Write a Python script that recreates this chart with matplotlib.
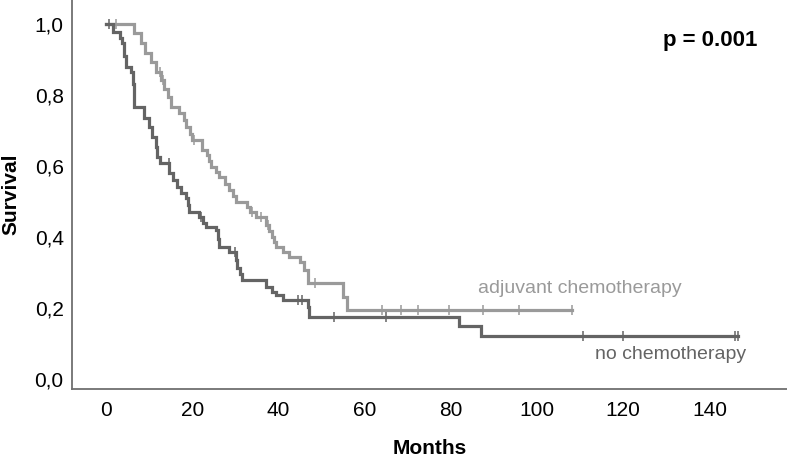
import numpy as np
import matplotlib
matplotlib.use("Agg")
import matplotlib.pyplot as plt

# Kaplan-Meier step data (months, survival after each drop)
adj_t = [0, 6.5, 8, 9, 10.5, 11.6, 12.8, 13.5, 14.3, 15, 17, 18, 18.6, 19.5, 20,
         22.3, 23.5, 23.8, 24.4, 25.5, 26.3, 27.5, 28.6, 29.5, 30.2, 32.6, 33.5,
         34.9, 37, 37.8, 38.4, 39, 39.5, 41, 42.5, 44.9, 46, 46.8, 55, 55.8, 108]
adj_s = [1.0, 0.975, 0.946, 0.918, 0.893, 0.865, 0.842, 0.818, 0.794, 0.766, 0.749,
         0.73, 0.71, 0.69, 0.673, 0.645, 0.631, 0.614, 0.597, 0.583, 0.569, 0.55,
         0.532, 0.515, 0.499, 0.485, 0.47, 0.456, 0.434, 0.417, 0.4, 0.386, 0.372,
         0.358, 0.344, 0.33, 0.307, 0.27, 0.23, 0.195, 0.195]
adj_cens = [2.3, 12.5, 13.2, 20.5, 33.8, 36, 37.5, 48.5, 64, 68.4, 72.3, 79.5,
            87.4, 95.8, 108]

no_t = [0, 1.5, 3.3, 3.7, 4.2, 4.6, 5.8, 6.2, 6.4, 6.6, 8.8, 10, 10.7, 11.6, 11.9,
        12.5, 14.7, 15.5, 16.5, 17.5, 18.6, 19, 19.3, 21.6, 22.5, 23.3, 25.6, 26,
        26.3, 28.6, 30.2, 30.5, 31, 31.6, 37.2, 38.4, 39.5, 41, 46.8, 47.2, 82, 87,
        146.7]
no_s = [1.0, 0.977, 0.96, 0.946, 0.91, 0.879, 0.865, 0.83, 0.8, 0.766, 0.735, 0.71,
        0.682, 0.654, 0.625, 0.61, 0.58, 0.56, 0.541, 0.525, 0.51, 0.49, 0.47,
        0.456, 0.44, 0.428, 0.42, 0.396, 0.372, 0.358, 0.335, 0.313, 0.296, 0.279,
        0.26, 0.245, 0.237, 0.222, 0.203, 0.175, 0.15, 0.12, 0.12]
no_cens = [0.8, 14.5, 22, 30, 44.5, 45.5, 52.8, 65, 110.7, 120, 146, 146.7]

xticks = [0, 20, 40, 60, 80, 100, 120, 140]
yticks = [0.0, 0.2, 0.4, 0.6, 0.8, 1.0]

c_adj = "#9a9a9a"
c_no = "#646464"
font = "Liberation Sans"

fig = plt.figure(figsize=(7.87, 4.58), dpi=100)
ax = fig.add_axes([72 / 787, 69 / 458, 715 / 787, 389 / 458])


def surv_at(t, times, surv):
    i = np.searchsorted(times, t, side="right") - 1
    return np.asarray(surv)[i]


for t, s, cens, col in [(adj_t, adj_s, adj_cens, c_adj), (no_t, no_s, no_cens, c_no)]:
    ax.step(t, s, where="post", color=col, lw=2.3, solid_joinstyle="miter")
    ax.plot(cens, surv_at(cens, t, s), ls="none", marker="|", ms=7, mew=1.1, color=col)

ax.set_xlim(-7.9, 158)
ax.set_ylim(-0.028, 1.068)
ax.set_xticks(xticks)
ax.set_yticks(yticks)
ax.set_yticklabels([f"{v:.1f}".replace(".", ",") for v in yticks])
ax.tick_params(length=0, labelsize=15)
ax.tick_params(axis="x", pad=9)
ax.tick_params(axis="y", pad=6)
for lab in ax.get_xticklabels() + ax.get_yticklabels():
    lab.set_fontfamily(font)

for side in ["top", "right"]:
    ax.spines[side].set_visible(False)
for side in ["left", "bottom"]:
    ax.spines[side].set_color("#707070")
    ax.spines[side].set_linewidth(1.3)

ax.set_xlabel("Months", fontsize=15, fontweight="bold", family=font, labelpad=13)
ax.set_ylabel("Survival", fontsize=15, fontweight="bold", family=font, labelpad=10)

ax.text(110, 0.256, "adjuvant chemotherapy", color=c_adj, fontsize=14, family=font,
        ha="center", va="center")
ax.text(131, 0.07, "no chemotherapy", color=c_no, fontsize=14, family=font,
        ha="center", va="center")
ax.text(151.2, 0.955, "p = 0.001", color="black", fontsize=16, fontweight="bold",
        family=font, ha="right", va="center")

fig.savefig("out.png", dpi=100)
